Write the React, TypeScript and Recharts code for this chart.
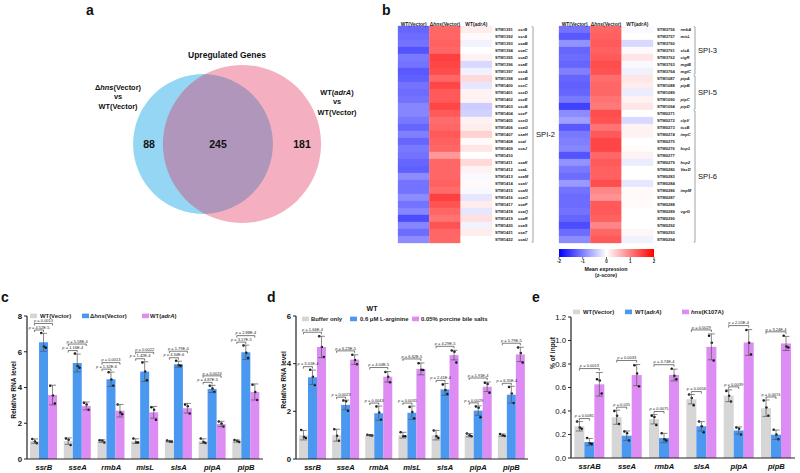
import React from 'react';
import { BarChart, Bar, XAxis, YAxis, ErrorBar, Cell, Legend, PieChart, Pie } from 'recharts';

const FONT = 'Arial, "Liberation Sans", Helvetica, sans-serif';

// ---------------- Panel a : Venn ----------------
const vennOnlyHns = 88;
const vennBoth = 245;
const vennOnlyAdrA = 181;

// ---------------- Panel b : heatmap ----------------
const heatCols = ['WT(Vector)', 'Δ_hns_(Vector)', 'WT(_adrA_)'];
const spi2Ids = ['STM1391','STM1392','STM1393','STM1394','STM1395','STM1396','STM1397','STM1398','STM1400','STM1401','STM1402','STM1403','STM1404','STM1405','STM1406','STM1407','STM1408','STM1409','STM1410','STM1411','STM1412','STM1413','STM1414','STM1415','STM1416','STM1417','STM1418','STM1419','STM1420','STM1421','STM1422'];
const spi2Genes = ['ssrB','ssrA','ssaB','ssaC','ssaD','ssaE','sseA','sseB','sseC','sseD','sseE','sscB','sseF','sseG','ssaG','ssaH','ssaI','ssaJ','','ssaK','ssaL','ssaM','ssaV','ssaN','ssaO','ssaP','ssaQ','ssaR','ssaS','ssaT','ssaU'];
const spi2WT = [-1.2,-1.15,-1.1,-1.35,-1.05,-1.1,-1.3,-1.25,-1.1,-1.15,-1.1,-0.95,-0.95,-1.05,-1.2,-1.0,-1.2,-1.05,-1.1,-1.2,-1.25,-0.9,-1.1,-1.1,-0.9,-1.1,-0.95,-1.4,-0.95,-1.15,-0.9];
const spi2Hns = [1.2,1.2,1.25,1.2,1.5,1.45,1.4,1.2,1.45,1.3,1.3,1.45,1.3,1.15,1.2,1.3,1.25,1.2,0.8,1.2,1.2,1.2,1.25,1.15,1.5,1.35,1.2,1.1,1.35,1.2,1.2];
const spi2AdrA = [0.15,0.05,-0.1,0.0,0.1,-0.3,-0.1,0.3,-0.2,0.1,0.1,-0.4,-0.35,0.1,0.15,0.35,0.05,0.2,0.0,0.3,0.1,-0.05,0.05,-0.05,-0.2,0.15,-0.2,0.25,-0.1,0.15,0.0];

const spiRIds = ['STM3756','STM3757','STM3760','STM3761','STM3762','STM3763','STM3764','STM1087','STM1088','STM1089','STM1090','STM1094','STM0271','STM0272','STM0273','STM0274','STM0275','STM0276','STM0277','STM0279','STM0280','STM0283','STM0284','STM0286','STM0287','STM0288','STM0289','STM0290','STM0292','STM0293','STM0294'];
const spiRGenes = ['rmbA','misL','','slsA','cigR','mgtB','mgtC','pipA','pipB','','pipC','pipD','','clpV','tssB','impC','','hcp1','','hcp2','VasD','','','impM','','','vgrG','','','',''];
const spiRWT = [-1.1,-1.3,-0.85,-1.2,-1.15,-1.2,-1.0,-1.2,-1.25,-1.2,-1.05,-1.5,-0.9,-0.75,-1.3,-1.05,-1.0,-0.95,-1.35,-0.85,-1.05,-1.15,-0.8,-1.1,-1.15,-1.15,-1.1,-1.2,-1.4,-1.15,-0.9];
const spiRHns = [1.2,1.25,1.3,1.25,1.3,1.4,1.35,1.15,1.2,1.2,1.1,1.05,1.4,1.35,1.1,1.3,1.45,1.45,1.2,1.3,1.25,1.25,1.4,0.95,0.85,1.3,1.3,1.25,0.95,1.2,1.3];
const spiRAdrA = [-0.05,0.0,-0.3,0.05,0.2,-0.05,-0.1,0.2,0.15,-0.15,0.1,0.2,0.0,-0.3,0.1,0.1,0.0,0.02,0.1,-0.15,0.0,0.0,-0.2,0.05,0.05,0.03,0.0,0.0,0.0,0.06,-0.1];
const spi2Groups = [{ label: 'SPI-2', from: 0, to: 30 }];
const spiRGroups = [{ label: 'SPI-3', from: 0, to: 6 }, { label: 'SPI-5', from: 7, to: 11 }, { label: 'SPI-6', from: 12, to: 30 }];
const zTicks = [-2, -1, 0, 1, 2];

// ---------------- Panel c ----------------
const cGenes = ['ssrB','sseA','rmbA','misL','slsA','pipA','pipB'];
const cNames = ['WT(Vector)', 'Δ_hns_(Vector)', 'WT(_adrA_)'];
const cWT = [1.0,1.0,1.0,1.0,1.0,1.0,1.0];
const cWTsd = [0.12,0.18,0.07,0.13,0.04,0.13,0.06];
const cWTreps = [[1.12,0.98,0.88],[1.15,1.08,0.78],[1.05,1.04,0.93],[1.15,0.92,0.93],[1.03,0.98,0.97],[1.15,0.95,0.9],[1.06,1.02,0.95]];
const cHns = [6.53,5.37,4.46,4.89,5.3,3.92,5.97];
const cHnsSd = [0.5,0.5,0.4,0.55,0.17,0.2,0.4];
const cHnsReps = [[7.05,6.3,6.22],[5.9,5.2,5.1],[4.85,4.45,4.1],[5.4,4.9,4.4],[5.5,5.25,5.22],[4.1,3.95,3.75],[6.35,5.95,5.65]];
const cAdrA = [3.58,2.97,2.7,2.61,2.84,1.96,3.75];
const cAdrASd = [0.55,0.22,0.35,0.33,0.27,0.15,0.45];
const cAdrAReps = [[4.1,3.55,3.1],[3.15,3.05,2.75],[3.05,2.6,2.5],[2.9,2.75,2.2],[3.05,2.95,2.55],[2.1,1.98,1.82],[4.15,3.75,3.3]];
const cP1 = ['4.52E-5','1.16E-4','1.32E-6','1.42E-4','4.34E-6','4.87E-5','3.17E-5'];
const cP2 = ['0.0013','5.58E-4','0.0013','0.0022','1.79E-4','0.0024','2.88E-4'];
const cTicks = [0, 2, 4, 6, 8];

// ---------------- Panel d ----------------
const dGenes = ['ssrB','sseA','rmbA','misL','slsA','pipA','pipB'];
const dNames = ['Buffer only', '0.6 μM L-arginine', '0.05% porcine bile salts'];
const dBuf = [1.0,1.0,1.0,1.0,1.0,1.0,1.0];
const dBufSd = [0.2,0.25,0.02,0.12,0.2,0.07,0.05];
const dBufReps = [[1.22,0.92,0.88],[1.25,0.98,0.77],[1.02,1.0,0.99],[1.12,0.95,0.95],[1.2,0.95,0.88],[1.07,1.0,0.95],[1.05,1.0,0.97]];
const dArg = [3.43,2.27,1.92,1.94,2.92,2.03,2.7];
const dArgSd = [0.3,0.2,0.3,0.28,0.25,0.2,0.35];
const dArgReps = [[3.75,3.45,3.1],[2.45,2.42,2.02],[2.2,1.95,1.65],[2.18,1.97,1.7],[3.13,2.9,2.73],[2.2,2.15,1.75],[3.02,2.75,2.35]];
const dBile = [4.7,4.17,3.45,3.78,4.36,3.03,4.39];
const dBileSd = [0.45,0.2,0.22,0.25,0.2,0.2,0.3];
const dBileReps = [[5.15,4.7,4.28],[4.37,4.15,3.98],[3.65,3.45,3.22],[4.02,3.75,3.73],[4.55,4.5,4.05],[3.2,3.15,2.78],[4.68,4.45,4.05]];
const dP1 = ['3.01E-4','0.0023','0.0043','0.0031','2.41E-4','0.0029','6.35E-4'];
const dP2 = ['1.66E-4','6.23E-5','4.04E-5','6.62E-5','4.29E-5','1.91E-4','5.79E-5'];
const dTicks = [0, 2, 4, 6];

// ---------------- Panel e ----------------
const eGenes = ['ssrAB','sseA','rmbA','slsA','pipA','pipB'];
const eNames = ['WT(Vector)', 'WT(_adrA_)', '_hns_(K107A)'];
const eWT = [0.27,0.347,0.33,0.5,0.53,0.424];
const eWTsd = [0.04,0.06,0.04,0.04,0.05,0.07];
const eWTreps = [[0.31,0.26,0.25],[0.4,0.36,0.29],[0.36,0.35,0.28],[0.54,0.51,0.45],[0.57,0.53,0.48],[0.49,0.43,0.36]];
const eAdrA = [0.136,0.19,0.17,0.27,0.234,0.198];
const eAdrASd = [0.03,0.04,0.04,0.04,0.03,0.04];
const eAdrAReps = [[0.17,0.125,0.12],[0.225,0.21,0.15],[0.21,0.16,0.15],[0.31,0.27,0.22],[0.26,0.25,0.2],[0.24,0.2,0.16]];
const eK107A = [0.627,0.706,0.706,0.946,0.983,0.975];
const eK107ASd = [0.1,0.09,0.05,0.11,0.11,0.06];
const eK107AReps = [[0.67,0.66,0.55],[0.79,0.72,0.61],[0.76,0.7,0.67],[1.04,0.98,0.83],[1.09,0.98,0.88],[1.04,0.95,0.94]];
const eP1 = ['0.0081','0.015','0.0075','0.0056','0.0039','0.0074'];
const eP2 = ['0.0013','0.0033','4.74E-4','0.0029','2.01E-4','3.24E-4'];
const eTicks = [0, 0.2, 0.4, 0.6, 0.8, 1.0, 1.2];

const GRAY = '#d6d6d6';
const BLUE = '#4a98f0';
const VIOLET = '#dc8cf2';

// rich text: segments between underscores are italic
const rich = (s: string) =>
  s.split('_').map((seg, i) => (
    <tspan key={i} fontStyle={i % 2 === 1 ? 'italic' : 'normal'}>{seg}</tspan>
  ));

const zColor = (z: number) => {
  const t = Math.max(-1, Math.min(1, z / 2));
  if (t < 0) {
    const v = Math.round(255 * (1 + t));
    return `rgb(${v},${v},255)`;
  }
  const v = Math.round(255 * (1 - t));
  return `rgb(255,${v},${v})`;
};

// ---------------- Heatmap ----------------
function Heatmap({ ids, genes, cols, left, groups, idOff, geneOff, brOff, lblOff }: any) {
  const data = ids.map((id: string, i: number) => ({
    id, gene: genes[i], z0: cols[0][i], z1: cols[1][i], z2: cols[2][i], w0: 1, w1: 1, w2: 1,
  }));
  const plotTop = 26;
  const plotBottom = 243;
  const plotW = 94;
  const axisW = 80;
  const rowH = (plotBottom - plotTop) / ids.length;

  const RowTick = (p: any) => {
    const { x, y, payload } = p;
    const i = p.index ?? payload.index;
    const row = data[i];
    const g = groups.find((gg: any) => i >= gg.from && i <= gg.to);
    const parts: any[] = [];
    parts.push(
      <text key="id" x={x + idOff} y={y + 1.5} fontSize={4.1} fontWeight="bold" fill="#222" fontFamily={FONT}>{row.id}</text>
    );
    if (row.gene) {
      parts.push(
        <text key="g" x={x + geneOff} y={y + 1.5} fontSize={4.1} fontWeight="bold" fontStyle="italic" fill="#222" fontFamily={FONT}>{row.gene}</text>
      );
    }
    if (g) {
      const y1 = i === g.from ? y - rowH / 2 + 0.8 : y - rowH / 2;
      const y2 = i === g.to ? y + rowH / 2 - 0.8 : y + rowH / 2;
      parts.push(<line key="br" x1={x + brOff} x2={x + brOff} y1={y1} y2={y2} stroke="#8a8a8a" strokeWidth={0.8} />);
      if (i === g.from) parts.push(<line key="h1" x1={x + brOff - 1.5} x2={x + brOff} y1={y1} y2={y1} stroke="#8a8a8a" strokeWidth={0.6} />);
      if (i === g.to) parts.push(<line key="h2" x1={x + brOff - 1.5} x2={x + brOff} y1={y2} y2={y2} stroke="#8a8a8a" strokeWidth={0.6} />);
      const mid = Math.floor((g.from + g.to) / 2);
      if (i === mid) {
        const dy = ((g.from + g.to) / 2 - mid) * rowH;
        parts.push(
          <text key="lbl" x={x + lblOff} y={y + dy + 2.7} fontSize={7.6} fill="#111" fontFamily={FONT}>{g.label}</text>
        );
      }
    }
    return <g>{parts}</g>;
  };

  const HeadTick = (p: any) => {
    const { x, y, payload } = p;
    const k = Math.floor(payload.value);
    return (
      <text x={x} y={y} textAnchor="middle" fontSize={4.9} fontWeight="bold" fill="#222" fontFamily={FONT}>
        {rich(heatCols[k])}
      </text>
    );
  };

  return (
    <div style={{ position: 'absolute', left: 0, top: 0 }}>
      <BarChart
        width={800}
        height={473}
        data={data}
        layout="vertical"
        barCategoryGap={0}
        barGap={0}
        margin={{ left, right: 800 - left - plotW - axisW, top: plotTop - 6, bottom: 473 - plotBottom }}
      >
        <XAxis type="number" orientation="top" domain={[0, 3]} ticks={[0.5, 1.5, 2.5]} height={6}
          axisLine={false} tickLine={false} tickSize={0} tickMargin={0} tick={HeadTick} interval={0} />
        <YAxis type="category" dataKey="id" orientation="right" width={axisW} axisLine={false}
          tickLine={false} tickSize={0} tickMargin={0} tick={RowTick} interval={0} />
        {[0, 1, 2].map((k) => (
          <Bar key={k} dataKey={'w' + k} stackId="h" isAnimationActive={false}>
            {data.map((r: any, i: number) => (
              <Cell key={i} fill={zColor(r['z' + k])} stroke={zColor(r['z' + k])} strokeWidth={0.3} />
            ))}
          </Bar>
        ))}
      </BarChart>
    </div>
  );
}

function ColorBar() {
  const data = [{ name: 'z', range: [zTicks[0], zTicks[zTicks.length - 1]] }];
  return (
    <div style={{ position: 'absolute', left: 0, top: 0 }}>
      <BarChart width={800} height={473} layout="vertical" data={data} barCategoryGap={0}
        margin={{ left: 559, right: 800 - 654, top: 249, bottom: 473 - 257 - 8 }}>
        <defs>
          <linearGradient id="zgrad" x1="0" x2="1" y1="0" y2="0">
            <stop offset="0" stopColor="#0000ff" />
            <stop offset="0.5" stopColor="#ffffff" />
            <stop offset="1" stopColor="#ff0000" />
          </linearGradient>
        </defs>
        <XAxis type="number" domain={[-2, 2]} ticks={zTicks} height={8} axisLine={false}
          tickSize={2} tickMargin={1} stroke="#666"
          tick={{ fontSize: 4.5, fill: '#222', fontFamily: FONT, fontWeight: 'bold' }} />
        <YAxis type="category" dataKey="name" hide />
        <Bar dataKey="range" fill="url(#zgrad)" isAnimationActive={false} />
      </BarChart>
    </div>
  );
}

// ---------------- Grouped bar chart ----------------
function GroupChart({ genes, series, p1, p2, domain, ticks, plot, yAxisW, tickFmt, tickBold, legendY, legendItems }: any) {
  const data = genes.map((g: string, i: number) => {
    const r: any = { gene: g, p1: p1[i], p2: p2[i] };
    series.forEach((s: any, k: number) => {
      r['v' + k] = s.values[i];
      r['e' + k] = s.sd[i];
      r['r' + k] = s.reps[i];
    });
    return r;
  });

  const jitter = [-2.3, 0.4, 2.3];

  const bracket = (x1: number, x2: number, yb: number, p: string, key: string) => (
    <g key={key}>
      <path d={`M${x1},${yb + 2} V${yb} H${x2} V${yb + 2}`} fill="none" stroke="#222" strokeWidth={0.6} />
      <text x={(x1 + x2) / 2} y={yb - 1.3} textAnchor="middle" fontSize={4} fill="#222" fontFamily={FONT}>
        <tspan fontStyle="italic">p</tspan> = {p}
      </text>
    </g>
  );

  const makeShape = (k: number, color: string) => (props: any) => {
    const { x, y, width, height, payload } = props;
    const v = payload['v' + k];
    const ppu = v ? height / v : 0;
    const base = y + height;
    const cx = x + width / 2;
    const els: any[] = [<rect key="r" x={x} y={y} width={width} height={height} fill={color} />];
    (payload['r' + k] as number[]).forEach((rv, j) => {
      els.push(<circle key={'d' + j} cx={cx + jitter[j]} cy={base - rv * ppu} r={1.25} fill="#111" />);
    });
    if (k === 2) {
      const top = (j: number) =>
        base - Math.max(payload['v' + j] + payload['e' + j], ...payload['r' + j]) * ppu;
      const c = (j: number) => cx - (2 - j) * width;
      const b1 = Math.min(top(0), top(1)) - 3;
      const b2 = Math.min(top(2) - 4, b1 - 6.5);
      els.push(bracket(c(0), c(1), b1, payload.p1, 'b1'));
      els.push(bracket(c(0), c(2), b2, payload.p2, 'b2'));
    }
    return <g>{els}</g>;
  };

  const XTick = (p: any) => (
    <text x={p.x} y={p.y + 10.5} textAnchor="middle" fontSize={7.6} fontWeight="bold" fontStyle="italic" fill="#111" fontFamily={FONT}>
      {p.payload.value}
    </text>
  );

  const LegendContent = () => (
    <svg width={800} height={12} style={{ display: 'block' }}>
      {series.map((s: any, k: number) => (
        <g key={k}>
          <rect x={legendItems[k][0]} y={3.6} width={7} height={4.6} fill={s.color} />
          <text x={legendItems[k][1]} y={8.2} fontSize={5.9} fontWeight="bold" fill="#222" fontFamily={FONT}>{rich(s.name)}</text>
        </g>
      ))}
    </svg>
  );

  const xAxisH = 12;
  return (
    <div style={{ position: 'absolute', left: 0, top: 0 }}>
      <BarChart
        width={800}
        height={473}
        data={data}
        barCategoryGap="9%"
        barGap={0}
        margin={{ left: plot.x0 - yAxisW, right: 800 - plot.x1, top: plot.y0, bottom: 473 - plot.y1 - xAxisH }}
      >
        <XAxis dataKey="gene" type="category" interval={0} height={xAxisH} tickLine={false} tickSize={0} tickMargin={0}
          axisLine={{ stroke: '#222', strokeWidth: 1.2 }} tick={XTick} />
        <YAxis type="number" domain={domain} ticks={ticks} width={yAxisW} tickSize={3} tickMargin={2}
          axisLine={{ stroke: '#222', strokeWidth: 1.2 }} tickLine={{ stroke: '#222', strokeWidth: 1 }}
          tickFormatter={tickFmt}
          tick={{ fontSize: 7.8, fontWeight: tickBold ? 'bold' : 'normal', fill: '#111', fontFamily: FONT }} />
        <Legend verticalAlign="middle" layout="horizontal" content={LegendContent}
          wrapperStyle={{ left: 0, top: legendY - 6, width: 800, height: 12 }} />
        {series.map((s: any, k: number) => (
          <Bar key={k} dataKey={'v' + k} name={s.name} fill={s.color} isAnimationActive={false} shape={makeShape(k, s.color)}>
            <ErrorBar dataKey={'e' + k} width={3.5} stroke="#555" strokeWidth={0.7} direction="y" />
          </Bar>
        ))}
      </BarChart>
    </div>
  );
}

function Venn() {
  const hnsData = [{ name: 'Δhns(Vector) vs WT(Vector)', value: vennOnlyHns + vennBoth }];
  const adrData = [{ name: 'WT(adrA) vs WT(Vector)', value: vennOnlyAdrA + vennBoth }];
  const k = 3.83;
  return (
    <div style={{ position: 'absolute', left: 0, top: 0 }}>
      <PieChart width={800} height={473} margin={{ top: 0, left: 0, right: 0, bottom: 0 }}>
        <Pie data={hnsData} dataKey="value" cx={203} cy={144} outerRadius={k * Math.sqrt(hnsData[0].value)}
          innerRadius={0} startAngle={90} endAngle={450} stroke="none" fill="#94d6f4" isAnimationActive={false} />
        <Pie data={adrData} dataKey="value" cx={242} cy={144} outerRadius={k * Math.sqrt(adrData[0].value)}
          innerRadius={0} startAngle={90} endAngle={450} stroke="none" fill="#e02452" fillOpacity={0.36} isAnimationActive={false} />
      </PieChart>
    </div>
  );
}

function Overlay() {
  const T = (props: any) => <text fontFamily={FONT} fill="#111" {...props} />;
  return (
    <svg width={800} height={473} style={{ position: 'absolute', left: 0, top: 0, pointerEvents: 'none' }}>
      <T x={86} y={15} fontSize={14} fontWeight="bold">a</T>
      <T x={382} y={15} fontSize={14} fontWeight="bold">b</T>
      <T x={1} y={302} fontSize={14} fontWeight="bold">c</T>
      <T x={267} y={302} fontSize={14} fontWeight="bold">d</T>
      <T x={532} y={302} fontSize={14} fontWeight="bold">e</T>

      <T x={227} y={58} fontSize={8.5} fontWeight="bold" textAnchor="middle">Upregulated Genes</T>
      <T x={118} y={89.5} fontSize={7.4} fontWeight="bold" textAnchor="middle">{rich('Δ_hns_(Vector)')}</T>
      <T x={118} y={98.5} fontSize={7.4} fontWeight="bold" textAnchor="middle">vs</T>
      <T x={118} y={108.5} fontSize={7.4} fontWeight="bold" textAnchor="middle">WT(Vector)</T>
      <T x={337} y={94.5} fontSize={7.4} fontWeight="bold" textAnchor="middle">{rich('WT(_adrA_)')}</T>
      <T x={337} y={104} fontSize={7.4} fontWeight="bold" textAnchor="middle">vs</T>
      <T x={337} y={114.5} fontSize={7.4} fontWeight="bold" textAnchor="middle">WT(Vector)</T>
      <T x={149} y={148} fontSize={10.5} fontWeight="bold" textAnchor="middle">{vennOnlyHns}</T>
      <T x={218} y={148} fontSize={10.5} fontWeight="bold" textAnchor="middle">{vennBoth}</T>
      <T x={302} y={148} fontSize={10.5} fontWeight="bold" textAnchor="middle">{vennOnlyAdrA}</T>

      <T x={606} y={270.5} fontSize={5.3} fontWeight="bold" textAnchor="middle">Mean expression</T>
      <T x={606} y={276.5} fontSize={5.3} fontWeight="bold" textAnchor="middle">(z-score)</T>

      <T x={372} y={310.5} fontSize={7} fontWeight="bold" textAnchor="middle">WT</T>

      <T x={0} y={0} fontSize={6.6} fontWeight="bold" textAnchor="middle" transform="translate(15.5,390) rotate(-90)">Relative RNA level</T>
      <T x={0} y={0} fontSize={6.6} fontWeight="bold" textAnchor="middle" transform="translate(285.5,380) rotate(-90)">Relative RNA level</T>
      <T x={0} y={0} fontSize={6.6} fontWeight="bold" textAnchor="middle" transform="translate(554.5,353) rotate(-90)">% of input</T>
    </svg>
  );
}

export default function App() {
  const cSeries = [
    { name: cNames[0], color: GRAY, values: cWT, sd: cWTsd, reps: cWTreps },
    { name: cNames[1], color: BLUE, values: cHns, sd: cHnsSd, reps: cHnsReps },
    { name: cNames[2], color: VIOLET, values: cAdrA, sd: cAdrASd, reps: cAdrAReps },
  ];
  const dSeries = [
    { name: dNames[0], color: GRAY, values: dBuf, sd: dBufSd, reps: dBufReps },
    { name: dNames[1], color: BLUE, values: dArg, sd: dArgSd, reps: dArgReps },
    { name: dNames[2], color: VIOLET, values: dBile, sd: dBileSd, reps: dBileReps },
  ];
  const eSeries = [
    { name: eNames[0], color: GRAY, values: eWT, sd: eWTsd, reps: eWTreps },
    { name: eNames[1], color: BLUE, values: eAdrA, sd: eAdrASd, reps: eAdrAReps },
    { name: eNames[2], color: VIOLET, values: eK107A, sd: eK107ASd, reps: eK107AReps },
  ];
  return (
    <div style={{ position: 'absolute', left: 0, top: 0, width: 800, height: 473, background: '#fff', overflow: 'hidden', fontFamily: FONT }}>
      <Venn />
      <Heatmap ids={spi2Ids} genes={spi2Genes} cols={[spi2WT, spi2Hns, spi2AdrA]} left={398} groups={spi2Groups}
        idOff={3} geneOff={26} brOff={41} lblOff={44} />
      <Heatmap ids={spiRIds} genes={spiRGenes} cols={[spiRWT, spiRHns, spiRAdrA]} left={559} groups={spiRGroups}
        idOff={4} geneOff={27.5} brOff={42} lblOff={45} />
      <ColorBar />
      <GroupChart genes={cGenes} series={cSeries} p1={cP1} p2={cP2} domain={[0, 8]} ticks={cTicks}
        plot={{ x0: 27, x1: 263, y0: 316, y1: 459 }} yAxisW={20} tickBold legendY={316.3}
        legendItems={[[30, 40], [82, 90], [142, 150]]} />
      <GroupChart genes={dGenes} series={dSeries} p1={dP1} p2={dP2} domain={[0, 6]} ticks={dTicks}
        plot={{ x0: 296, x1: 528, y0: 316, y1: 459 }} yAxisW={20} tickBold legendY={319}
        legendItems={[[302, 311], [350, 360], [412, 421]]} />
      <GroupChart genes={eGenes} series={eSeries} p1={eP1} p2={eP2} domain={[0, 1.2]} ticks={eTicks}
        plot={{ x0: 571, x1: 795, y0: 317, y1: 458 }} yAxisW={24} tickBold={false} legendY={312}
        tickFmt={(v: number) => v.toFixed(1)}
        legendItems={[[573, 583], [625, 635], [682, 691]]} />
      <Overlay />
    </div>
  );
}
